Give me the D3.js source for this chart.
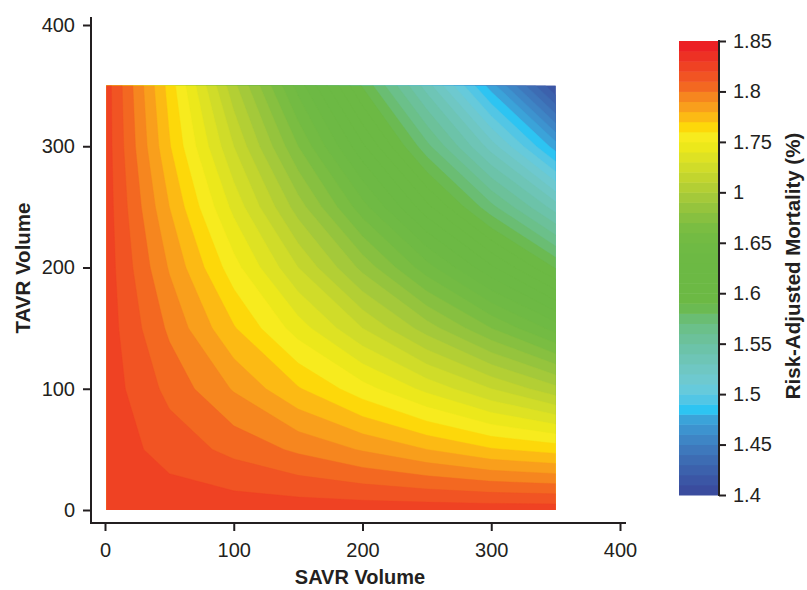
<!DOCTYPE html>
<html>
<head>
<meta charset="utf-8">
<script src="https://cdn.jsdelivr.net/npm/d3@7"></script>
<style>
  body { margin: 0; background: #fff; }
  text { font-family: "Liberation Sans", Arial, sans-serif; fill: #231f20; }
</style>
</head>
<body>
<svg id="chart" width="807" height="590"></svg>
<script>
// grid of SAVR (x) and TAVR (y) volumes
var savrVolume = [0, 50, 100, 150, 200, 250, 300, 350];
var tavrVolume = [0, 50, 100, 150, 200, 250, 300, 350];

// risk-adjusted mortality (%), one row per TAVR volume (bottom row first)
var mortality = [
  [1.826, 1.826, 1.826, 1.826, 1.826, 1.826, 1.826, 1.826],
  [1.826, 1.816, 1.807, 1.798, 1.789, 1.780, 1.771, 1.766],
  [1.826, 1.807, 1.789, 1.771, 1.754, 1.737, 1.720, 1.703],
  [1.826, 1.798, 1.771, 1.745, 1.720, 1.695, 1.670, 1.646],
  [1.826, 1.789, 1.754, 1.720, 1.687, 1.654, 1.622, 1.589],
  [1.826, 1.780, 1.737, 1.695, 1.654, 1.613, 1.573, 1.535],
  [1.826, 1.771, 1.720, 1.670, 1.622, 1.573, 1.525, 1.475],
  [1.826, 1.766, 1.703, 1.646, 1.589, 1.535, 1.475, 1.410]
];

var axisTicks = [0, 100, 200, 300, 400];
var legendTicks = [1.4, 1.45, 1.5, 1.55, 1.6, 1.65, 1.7, 1.75, 1.8, 1.85];
var legendLabels = ["1.4", "1.45", "1.5", "1.55", "1.6", "1.65", "1", "1.75", "1.8", "1.85"];

// one colour per 0.01 band, from 1.40 upward
var bandColors = [
  "#3a4c9e", "#3b56a5", "#3c61ac", "#3d6cb3", "#3e78bc", "#3e85c5", "#3d93cf", "#3ba3d9",
  "#2dc4f2", "#52c6e5", "#66cadb", "#6ec9cf", "#6fc7c3", "#6ec5b6", "#6cc3a9", "#6cc19a",
  "#6bc08a", "#6abd73", "#6bba52", "#6cb944", "#6cb944", "#6cb944", "#6cb944", "#6db944",
  "#6fba44", "#73bb43", "#7abd42", "#87c040", "#95c43d", "#a4c93a", "#b3cf34", "#c2d52e",
  "#d0dc29", "#dee223", "#ece81b", "#f7eb1e", "#fdd80a", "#fcba14", "#f99f1c", "#f6861f",
  "#f36821", "#f15423", "#ef4223", "#ed3124", "#ec2024"
];
var levels = d3.range(140, 185).map(function(d) { return d / 100; });

var svg = d3.select("#chart");
var ink = "#231f20";

var x = d3.scaleLinear().domain([0, 400]).range([105, 620]);
var y = d3.scaleLinear().domain([0, 400]).range([510, 25]);

// grid space -> pixel space (d3.contours puts sample i at i + 0.5)
var gx = d3.scaleLinear().domain([0.5, savrVolume.length - 0.5])
  .range([x(savrVolume[0]), x(savrVolume[savrVolume.length - 1])]);
var gy = d3.scaleLinear().domain([0.5, tavrVolume.length - 0.5])
  .range([y(tavrVolume[0]), y(tavrVolume[tavrVolume.length - 1])]);

var path = d3.geoPath(d3.geoTransform({
  point: function(px, py) { this.stream.point(gx(px), gy(py)); }
}));

svg.append("clipPath").attr("id", "plot-clip")
  .append("rect")
  .attr("x", x(savrVolume[0]) + 1.5)
  .attr("y", y(tavrVolume[tavrVolume.length - 1]))
  .attr("width", x(savrVolume[savrVolume.length - 1]) - x(savrVolume[0]) - 1.5)
  .attr("height", y(tavrVolume[0]) - y(tavrVolume[tavrVolume.length - 1]));

var contours = d3.contours()
  .size([savrVolume.length, tavrVolume.length])
  .thresholds(levels)(d3.merge(mortality));

svg.append("g")
  .attr("clip-path", "url(#plot-clip)")
  .selectAll("path")
  .data(contours)
  .enter().append("path")
  .attr("d", path)
  .attr("fill", function(d, i) { return bandColors[i]; })
  .attr("stroke", function(d, i) { return bandColors[i]; })
  .attr("stroke-width", 0.4);

// axes
var xAxis = svg.append("g")
  .attr("transform", "translate(0,523)")
  .call(d3.axisBottom(x).tickValues(axisTicks).tickSize(8).tickSizeOuter(0).tickPadding(12));
xAxis.select(".domain").remove();
xAxis.append("line").attr("x1", 91).attr("x2", 626).attr("stroke", ink).attr("stroke-width", 2);

var yAxis = svg.append("g")
  .attr("transform", "translate(91,0)")
  .call(d3.axisLeft(y).tickValues(axisTicks).tickSize(8).tickSizeOuter(0).tickPadding(8));
yAxis.select(".domain").remove();
yAxis.append("line").attr("y1", 17).attr("y2", 524).attr("stroke", ink).attr("stroke-width", 2);

[xAxis, yAxis].forEach(function(a) {
  a.selectAll(".tick line").attr("stroke", ink).attr("stroke-width", 2);
  a.selectAll(".tick text").style("font-size", "20px").attr("fill", ink);
});

svg.append("text")
  .attr("x", 360).attr("y", 584)
  .attr("text-anchor", "middle")
  .style("font-size", "20px").style("font-weight", "bold")
  .text("SAVR Volume");

svg.append("text")
  .attr("transform", "translate(30,268) rotate(-90)")
  .attr("text-anchor", "middle")
  .style("font-size", "20.5px").style("font-weight", "bold")
  .text("TAVR Volume");

// colour bar
var cb = d3.scaleLinear().domain([1.4, 1.85]).range([495, 41]);
svg.append("g").selectAll("rect")
  .data(levels)
  .enter().append("rect")
  .attr("x", 679)
  .attr("width", 40)
  .attr("y", function(d) { return cb(d + 0.01); })
  .attr("height", function(d) { return cb(d) - cb(d + 0.01) + 0.5; })
  .attr("fill", function(d, i) { return bandColors[i]; });

var cbAxis = svg.append("g")
  .attr("transform", "translate(719,0)")
  .call(d3.axisRight(cb).tickValues(legendTicks).tickSize(7).tickSizeOuter(0).tickPadding(7)
    .tickFormat(function(d, i) { return legendLabels[i]; }));
cbAxis.select(".domain").remove();
cbAxis.append("line").attr("y1", 40).attr("y2", 496).attr("stroke", ink).attr("stroke-width", 2);
cbAxis.selectAll(".tick line").attr("stroke", ink).attr("stroke-width", 2);
cbAxis.selectAll(".tick text").style("font-size", "20px").attr("fill", ink);

svg.append("text")
  .attr("transform", "translate(800,266) rotate(-90)")
  .attr("text-anchor", "middle")
  .style("font-size", "20.5px").style("font-weight", "bold")
  .text("Risk-Adjusted Mortality (%)");
</script>
</body>
</html>
